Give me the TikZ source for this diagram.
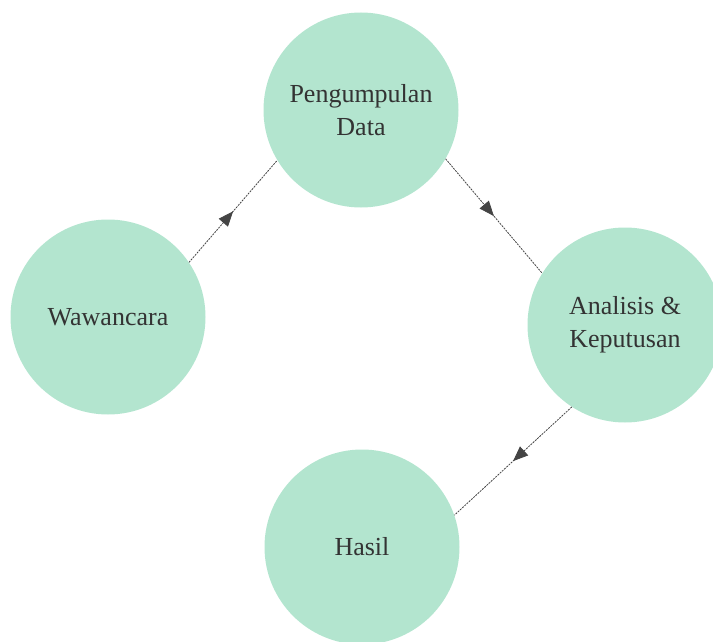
\documentclass[tikz,border=0pt]{standalone}
\usepackage{fontspec}
\setmainfont{Liberation Serif}
\usetikzlibrary{arrows.meta,decorations.markings}
\definecolor{mint}{HTML}{B3E5CF}
\definecolor{txt}{HTML}{333333}
\definecolor{lnk}{HTML}{444444}
\begin{document}
\begin{tikzpicture}[x=1pt,y=-1pt,
  bubble/.style={circle,fill=mint,draw=none,minimum size=195pt,inner sep=0pt,
    text=txt,align=center,font=\fontsize{26}{33}\selectfont},
  link/.style={draw=lnk,line width=0.8pt,dash pattern=on 2pt off 1pt,
    postaction={decorate},
    decoration={markings,mark=at position 0.5 with {\arrow[lnk]{Triangle[length=15pt,width=12pt]}}}}]
\useasboundingbox (0,0) rectangle (713,642);
\node[bubble] (p) at (361,110) {Pengumpulan\\Data};
\node[bubble] (w) at (108,317) {Wawancara};
\node[bubble] (a) at (625,325) {Analisis \&\\Keputusan};
\node[bubble] (h) at (362,547) {Hasil};
\path[link] (w.34) -- (p.211);
\path[link] (p.-30) -- (a.148);
\path[link] (a.237) -- (h.19);
\end{tikzpicture}
\end{document}
